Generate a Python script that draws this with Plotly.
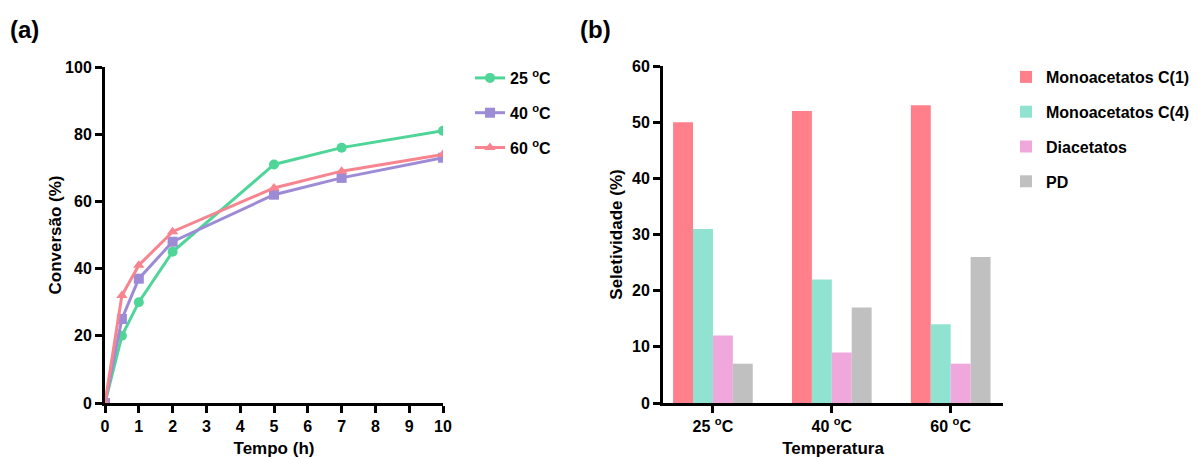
import plotly.graph_objects as go

# ---- data (a) ----
tempo = [0, 0.5, 1, 2, 5, 7, 10]
conv_25 = [0, 20, 30, 45, 71, 76, 81]
conv_40 = [0, 25, 37, 48, 62, 67, 73]
conv_60 = [0, 32, 41, 51, 64, 69, 74]
line_names = ["25 <sup>o</sup>C", "40 <sup>o</sup>C", "60 <sup>o</sup>C"]

# ---- data (b) ----
temperaturas = ["25 <sup>o</sup>C", "40 <sup>o</sup>C", "60 <sup>o</sup>C"]
mono_c1 = [50, 52, 53]
mono_c4 = [31, 22, 14]
diacetatos = [12, 9, 7]
pd_vals = [7, 17, 26]
bar_names = ["Monoacetatos C(1)", "Monoacetatos C(4)", "Diacetatos", "PD"]

FONT = "Liberation Sans, Arial"
W, H = 1198, 459
OFF = 8  # page body margin

fig = go.Figure()

line_colors = ["#4fd597", "#9d8bd6", "#f7848f"]
symbols = ["circle", "square", "triangle-up"]
for name, ys, c, s in zip(line_names, [conv_25, conv_40, conv_60], line_colors, symbols):
    fig.add_trace(go.Scatter(
        x=tempo, y=ys, name=name, mode="lines+markers",
        line=dict(color=c, width=3), marker=dict(symbol=s, size=10, color=c),
        xaxis="x", yaxis="y", legend="legend", legendgroup=name))

bar_colors = ["#ff808b", "#8fe3d0", "#f0a8dc", "#c0c0c0"]
for name, ys, c in zip(bar_names, [mono_c1, mono_c4, diacetatos, pd_vals], bar_colors):
    fig.add_trace(go.Bar(
        x=temperaturas, y=ys, name=name, marker=dict(color=c, line=dict(width=0)),
        xaxis="x2", yaxis="y2", legend="legend2", legendgroup=name))

def px_x(p):
    return (p - OFF) / W

def px_y(p):
    return 1 - (p - OFF) / H

tickfont = dict(family=FONT, size=16, color="black", weight="bold")
titlefont = dict(family=FONT, size=17, color="black", weight="bold")
axis_common = dict(showline=True, linecolor="black", linewidth=3, ticks="outside",
                   tickcolor="black", tickwidth=3, ticklen=7, showgrid=False, zeroline=False,
                   automargin=False, tickfont=tickfont)

fig.update_layout(
    width=W, height=H,
    margin=dict(l=0, r=0, t=0, b=0, autoexpand=False),
    plot_bgcolor="white", paper_bgcolor="white",
    barmode="group", bargap=0.33, bargroupgap=0,
    font=dict(family=FONT, color="black"),
    xaxis=dict(domain=[px_x(105), px_x(443)], range=[0, 10], tickvals=list(range(11)),
               anchor="y", title=dict(text="Tempo (h)", font=titlefont, standoff=8),
               **axis_common),
    yaxis=dict(domain=[px_y(403), px_y(67)], range=[0, 100], tickvals=[0, 20, 40, 60, 80, 100],
               anchor="x", title=dict(text="Conversão (%)", font=titlefont, standoff=0),
               **axis_common),
    xaxis2=dict(domain=[px_x(663), px_x(1003)], range=[-0.42, 2.44], type="category",
                anchor="y2", title=dict(text="Temperatura", font=titlefont, standoff=8),
                **axis_common),
    yaxis2=dict(domain=[px_y(403), px_y(66)], range=[0, 60], tickvals=[0, 10, 20, 30, 40, 50, 60],
                anchor="x2", title=dict(text="Seletividade (%)", font=titlefont, standoff=6),
                **axis_common),
    legend=dict(x=px_x(470), y=px_y(61), xanchor="left", yanchor="top",
                font=dict(family=FONT, size=16, color="black", weight="bold"), tracegroupgap=11,
                bgcolor="rgba(0,0,0,0)", itemwidth=30),
    legend2=dict(x=px_x(1006), y=px_y(60), xanchor="left", yanchor="top",
                 font=dict(family=FONT, size=16, color="black", weight="bold"), tracegroupgap=11,
                 bgcolor="rgba(0,0,0,0)", itemwidth=30),
    showlegend=True,
    annotations=[
        dict(text="(a)", x=px_x(8), y=px_y(30), xref="paper", yref="paper",
             xanchor="left", yanchor="middle", showarrow=False,
             font=dict(family=FONT, size=24, weight="bold")),
        dict(text="(b)", x=px_x(578), y=px_y(30), xref="paper", yref="paper",
             xanchor="left", yanchor="middle", showarrow=False,
             font=dict(family=FONT, size=24, weight="bold")),
    ],
)

fig.write_html("out.html")
